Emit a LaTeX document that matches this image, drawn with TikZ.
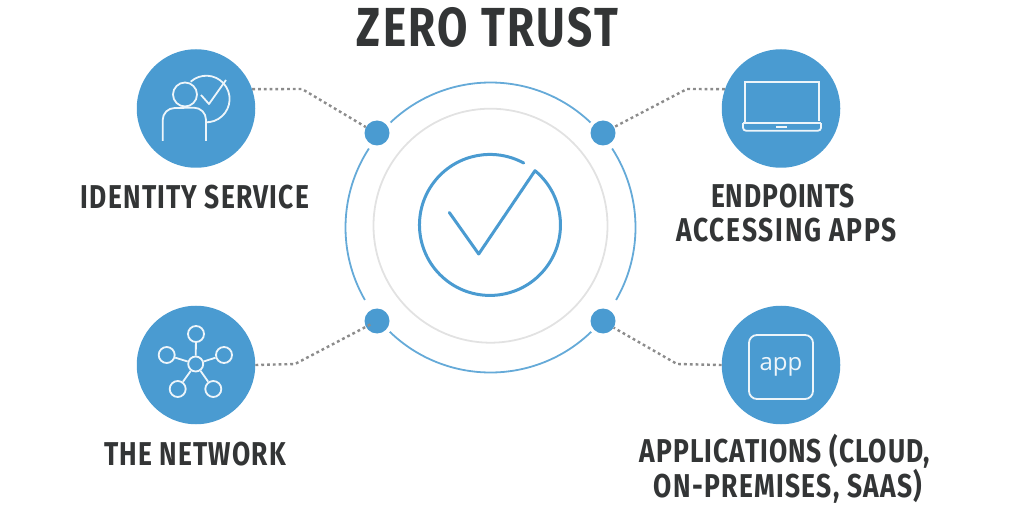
\documentclass[tikz,border=0pt]{standalone}
\usepackage{fontspec}
\setmainfont[FakeStretch=0.8,LetterSpace=4.5]{Fira Sans}
\newfontfamily\appfont{Open Sans}
\newcommand{\lsp}[1]{\addfontfeature{LetterSpace=#1}}
\usetikzlibrary{positioning}
\definecolor{zeroblue}{HTML}{4A9BD1}
\definecolor{ringgray}{HTML}{E2E2E2}
\definecolor{dotgray}{HTML}{8C8C8C}
\definecolor{inkgray}{HTML}{333536}
\tikzset{
  bigdisc/.style={circle, fill=zeroblue, minimum size=118.5pt, inner sep=0pt},
  smalldisc/.style={circle, fill=zeroblue, minimum size=25pt, inner sep=0pt},
  dotline/.style={draw=dotgray, line width=2.4pt, dash pattern=on 2.8pt off 3pt},
  iconline/.style={draw=white!90!zeroblue, line width=1.8pt},
  netdisc/.style={circle, iconline, minimum size=16pt, inner sep=0pt},
  caption/.style={text=inkgray, align=center, font=\fontsize{33}{34}\selectfont\bfseries},
}

\begin{document}
\begin{tikzpicture}[x=1pt,y=1pt]
\useasboundingbox (0,0) rectangle (1024,525);
\node[text=inkgray, anchor=base, font=\fontsize{55}{57}\selectfont\bfseries] (title) at (487.5,478) {ZERO TRUST};

% rings and tick
\coordinate (ringc) at (490.5,297.5);
\node[circle, draw=ringgray, line width=1.8pt, minimum size=234pt, inner sep=0pt] (graycircle) at (490.5,299.3) {};
\foreach \a/\b in {46.4/133.6,147/210,226/314,330/393}
  \draw[zeroblue!85!white, line width=1.8pt] (ringc) ++(\a:145) arc[start angle=\a, end angle=\b, radius=145];
\draw[zeroblue, line width=3pt, line cap=round, line join=round] (449.3,312.5) -- (478.7,271) -- (535,354.3)
  arc[start angle=50.3, end angle=-298.6, radius=70.5];

% four corner discs
\node[bigdisc] (identity) at (196,416.5) {};
\node[bigdisc] (network) at (196,160) {};
\node[bigdisc] (endpoints) at (781,416.5) {};
\node[bigdisc] (apps) at (781,160) {};
\node[smalldisc] (dotid) at (377,392) {};
\node[smalldisc] (dotnet) at (377,204) {};
\node[smalldisc] (dotend) at (603,392) {};
\node[smalldisc] (dotapp) at (603,204) {};

% dotted links
\coordinate (bendid) at (302,436);
\coordinate (bendnet) at (295,161);
\coordinate (bendend) at (687,436);
\coordinate (bendapp) at (677,161);
\draw[dotline] (identity.19) -- (bendid) -- (dotid.152);
\draw[dotline, shorten >=5.5pt] (network.0) -- (bendnet) -- (dotnet.center);
\draw[dotline] (endpoints.161) -- (bendend) -- (dotend.28);
\draw[dotline] (apps.180) -- (bendapp) -- (dotapp.-32);

% person with tick
\node[circle, iconline, minimum size=24pt, inner sep=0pt] (head) at (185,430.5) {};
\draw[iconline] (162.7,384) -- (162.7,405) arc[start angle=180, end angle=90, radius=12] -- (194,417.3) arc[start angle=90, end angle=0, radius=12] -- (206,384);
\draw[iconline] (190.7,443.3) arc[start angle=132, end angle=-93, radius=23.3];
\draw[iconline, line join=round] (201,430) -- (209,421) -- (226,445);

% network
\node[netdisc, minimum size=15pt] (hub) at (195.7,161) {};
\node[netdisc] (sat1) at (196,191) {};
\node[netdisc] (sat2) at (166.7,170) {};
\node[netdisc] (sat3) at (224,170) {};
\node[netdisc] (sat4) at (177.7,136) {};
\node[netdisc] (sat5) at (213.3,136) {};
\foreach \s in {sat1,sat2,sat3,sat4,sat5}
  \draw[iconline] (hub) -- (\s);

% laptop
\draw[iconline] (744.7,401.5) |- (819,443.3) -- (819,403.5);
\draw[iconline, rounded corners=3pt] (743,401.8) -- (743,394.3) -- (821,394.3) -- (821,401.8);
\draw[iconline] (743,401.8) -- (821,401.8);
\fill[white!90!zeroblue] (776,397) rectangle (787,399.2);

% app tile
\node[draw=white!90!zeroblue, line width=1.8pt, rounded corners=8pt, minimum size=64pt, inner sep=0pt, text=white!90!zeroblue, font=\appfont\fontsize{24}{26}\selectfont] (apptile) at (781,158) {app};

% captions
\node[caption, anchor=base] (idlabel) at (195,316) {\lsp{3.6}IDENTITY SERVICE};
\node[caption] (endlabel) at (786.5,312) {{\lsp{2.6}ENDPOINTS}\hspace*{7pt}\\{\lsp{5.4}ACCESSING APPS}};
\node[caption, anchor=base] (netlabel) at (195,60) {\lsp{3.5}THE NETWORK};
\node[caption] (applabel) at (785,56.3) {{\lsp{3.2}APPLICATIONS (CLOUD,}\\\hspace*{6pt}{\lsp{4}ON-PREMISES, SAAS)}};
\end{tikzpicture}
\end{document}
